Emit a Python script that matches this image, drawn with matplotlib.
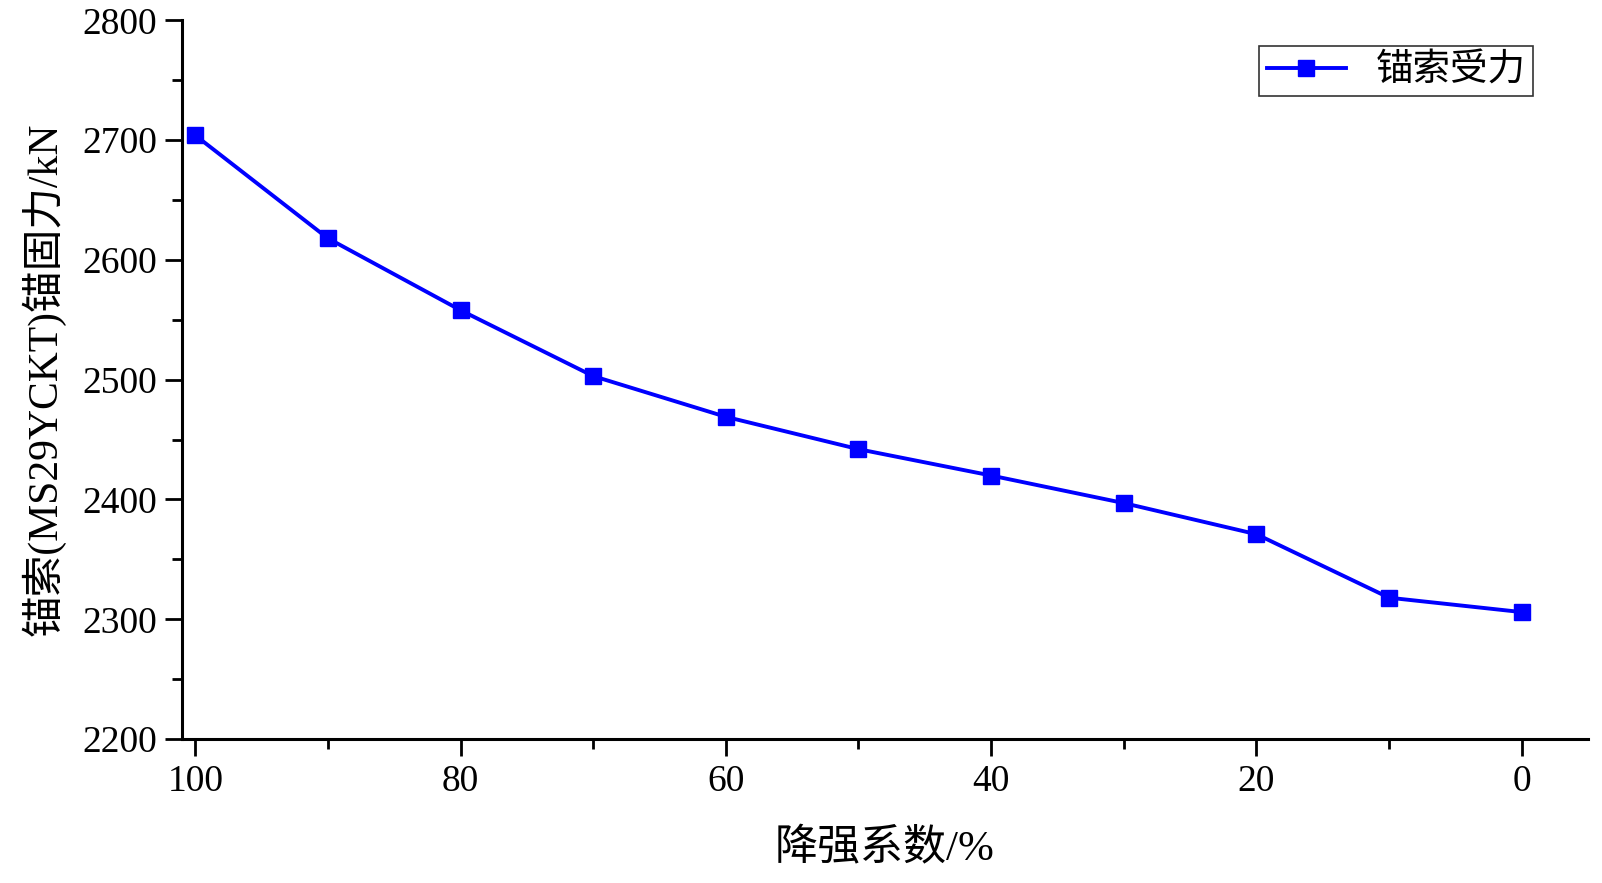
import matplotlib
matplotlib.use("Agg")
import matplotlib.pyplot as plt
from matplotlib.ticker import MultipleLocator

plt.rcParams['font.family'] = ['Liberation Serif', 'Noto Sans CJK SC']
plt.rcParams['axes.unicode_minus'] = False

# data
reduction = [100, 90, 80, 70, 60, 50, 40, 30, 20, 10, 0]
anchor_force = [2704, 2618, 2558, 2503, 2469, 2442, 2420, 2397, 2371, 2318, 2306]

fig = plt.figure(figsize=(16.02, 8.83), dpi=100)
ax = fig.add_axes([0.1136, 0.163, 0.8777, 0.814])

ax.plot(reduction, anchor_force, color='#0000ff', linewidth=2.8,
        marker='s', markersize=12, label='锚索受力')

ax.set_xlim(101, -5)
ax.set_ylim(2200, 2800)
ax.xaxis.set_major_locator(MultipleLocator(20))
ax.xaxis.set_minor_locator(MultipleLocator(10))
ax.yaxis.set_major_locator(MultipleLocator(100))
ax.yaxis.set_minor_locator(MultipleLocator(50))

for side in ['top', 'right']:
    ax.spines[side].set_visible(False)
for side in ['left', 'bottom']:
    ax.spines[side].set_linewidth(2.2)

ax.tick_params(which='major', direction='out', length=12, width=2, labelsize=27, pad=6)
ax.tick_params(which='minor', direction='out', length=7, width=2)

ax.set_xlabel('降强系数/%', fontsize=31, labelpad=22)
ax.set_ylabel('锚索(MS29YCKT)锚固力/kN', fontsize=30, labelpad=12)

leg = ax.legend(loc='upper right', bbox_to_anchor=(0.961, 0.964), borderaxespad=0,
                fontsize=27, frameon=True, fancybox=False, edgecolor='black',
                handlelength=2.1, borderpad=0.2, handletextpad=0.8)
leg.get_frame().set_linewidth(1.2)

fig.savefig('out.png', dpi=100)
